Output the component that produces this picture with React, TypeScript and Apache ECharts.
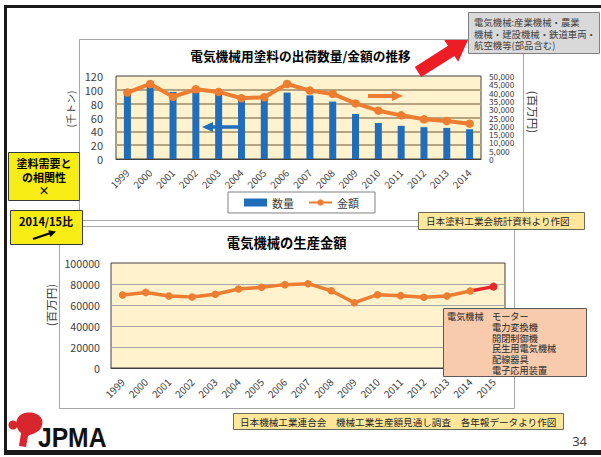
import React, { useEffect, useRef } from "react";
import * as echarts from "echarts";

const shipmentYears = ["1999", "2000", "2001", "2002", "2003", "2004", "2005", "2006", "2007", "2008", "2009", "2010", "2011", "2012", "2013", "2014"];
const shipmentQuantity = [101, 105, 97, 99, 95, 87, 87, 96, 92, 83, 65, 52, 48, 46, 45, 43];
const shipmentValue = [40000, 45200, 37500, 42000, 40400, 36600, 37200, 45200, 41200, 39200, 33500, 29100, 26300, 23900, 22900, 21300];

const productionYears = ["1999", "2000", "2001", "2002", "2003", "2004", "2005", "2006", "2007", "2008", "2009", "2010", "2011", "2012", "2013", "2014", "2015"];
const productionValue = [69500, 72000, 68600, 67600, 70200, 75200, 76800, 79400, 80300, 73600, 62200, 69800, 68900, 67300, 68600, 73300, 77500];

const legendNames = ["数量", "金額"];
const noteLines = ["電気機械:産業機械・農業", "機械・建設機械・鉄道車両・", "航空機等(部品含む)"];
const itemLines = ["モーター", "電力変換機", "開閉制御機", "民生用電気機械", "配線器具", "電子応用装置"];

const F = '"Noto Sans CJK JP", "Noto Sans", sans-serif';

const LogoShape = (echarts as any).graphic.extendPath(
  "M22 414 C 34 409 47 417 41 428 C 38 433 31 434 28 436 L 26 447 L 19 446 L 21 433 C 15 428 14 418 22 414 Z",
  {}
);
(echarts as any).graphic.registerShape("jpmaMark", LogoShape);

function txt(text: string, x: number, y: number, o: any = {}) {
  return {
    type: "text",
    x,
    y,
    z: 60,
    rotation: o.rot ?? 0,
    style: {
      text,
      fontSize: o.size ?? 10,
      fontFamily: o.family ?? F,
      fontWeight: o.weight ?? "normal",
      fill: o.color ?? "#404040",
      textAlign: o.align ?? "left",
      textVerticalAlign: "middle",
      lineHeight: o.lh,
    },
  };
}

function box(x: number, y: number, w: number, h: number, fill: string, stroke: string, z = 50, lw = 1) {
  return {
    type: "rect",
    z,
    shape: { x, y, width: w, height: h },
    style: { fill, stroke, lineWidth: lw },
  };
}

export default function App() {
  const ref = useRef<HTMLDivElement>(null);
  useEffect(() => {
    if (!ref.current) return;
    const chart = echarts.init(ref.current, null, { renderer: "svg" });
    const n = productionValue.length;
    const option: any = {
      animation: false,
      backgroundColor: "#ffffff",
      textStyle: { fontFamily: F },
      grid: [
        { left: 116, top: 76, width: 365, height: 83, show: true, backgroundColor: "#fff2cc", borderColor: "#404040", borderWidth: 1 },
        { left: 111, top: 263, width: 394, height: 105, show: true, backgroundColor: "#fff2cc", borderColor: "#404040", borderWidth: 1 },
      ],
      legend: {
        data: [{ name: legendNames[0], icon: "rect" }, { name: legendNames[1] }],
        left: 228,
        top: 192,
        itemWidth: 23,
        itemHeight: 8,
        itemGap: 14,
        padding: [5, 16],
        borderColor: "#808080",
        borderWidth: 1,
        backgroundColor: "#ffffff",
        textStyle: { fontSize: 11, color: "#404040", fontFamily: F },
      },
      xAxis: [
        {
          type: "category",
          gridIndex: 0,
          data: shipmentYears,
          axisTick: { show: false },
          axisLine: { lineStyle: { color: "#404040" } },
          axisLabel: { rotate: 45, fontSize: 9.8, color: "#404040", margin: 12, interval: 0, fontFamily: F },
        },
        {
          type: "category",
          gridIndex: 1,
          data: productionYears,
          boundaryGap: true,
          axisTick: { show: false },
          axisLine: { lineStyle: { color: "#404040" } },
          axisLabel: { rotate: 45, fontSize: 10, color: "#404040", margin: 12, interval: 0, fontFamily: F },
        },
      ],
      yAxis: [
        {
          type: "value",
          gridIndex: 0,
          min: 0,
          max: 120,
          interval: 20,
          axisLine: { show: false },
          axisTick: { show: false },
          axisLabel: { fontSize: 11, color: "#404040", margin: 13, fontFamily: F, showMinLabel: true, showMaxLabel: true },
          splitLine: { show: true, showMinLine: false, showMaxLine: false, lineStyle: { color: "#b5a47f", width: 2 } },
        },
        {
          type: "value",
          gridIndex: 0,
          position: "right",
          min: 0,
          max: 50000,
          interval: 5000,
          axisLine: { show: false },
          axisTick: { show: false },
          splitLine: { show: false },
          axisLabel: {
            fontSize: 8.3,
            lineHeight: 8,
            color: "#404040",
            margin: 8,
            fontFamily: F,
            showMinLabel: true,
            showMaxLabel: true,
            hideOverlap: false,
            formatter: (v: number) => v.toLocaleString("en-US"),
          },
        },
        {
          type: "value",
          gridIndex: 1,
          min: 0,
          max: 100000,
          interval: 20000,
          axisLine: { show: false },
          axisTick: { show: false },
          axisLabel: {
            fontSize: 10.7,
            color: "#404040",
            margin: 11,
            fontFamily: F,
            showMinLabel: true,
            showMaxLabel: true,
            formatter: (v: number) => String(v),
          },
          splitLine: { show: true, showMinLine: false, showMaxLine: false, lineStyle: { color: "#a6a6a6", width: 1 } },
        },
      ],
      series: [
        {
          type: "bar",
          name: legendNames[0],
          xAxisIndex: 0,
          yAxisIndex: 0,
          data: shipmentQuantity,
          barWidth: 7,
          itemStyle: { color: "#1f6dbb" },
          z: 3,
        },
        {
          type: "line",
          name: legendNames[1],
          xAxisIndex: 0,
          yAxisIndex: 1,
          data: shipmentValue,
          symbol: "circle",
          symbolSize: 8.5,
          lineStyle: { color: "#ed7d31", width: 4 },
          itemStyle: { color: "#ed7d31" },
          z: 4,
        },
        {
          type: "line",
          name: "生産金額",
          xAxisIndex: 1,
          yAxisIndex: 2,
          data: productionValue.map((v, i) => (i < n - 1 ? v : "-")),
          symbol: "circle",
          symbolSize: 7.5,
          lineStyle: { color: "#ed7d31", width: 3.5 },
          itemStyle: { color: "#ed7d31" },
          z: 4,
        },
        {
          type: "line",
          name: "2015",
          xAxisIndex: 1,
          yAxisIndex: 2,
          data: productionValue.map((v, i) =>
            i === n - 2 ? { value: v, symbol: "none" } : i === n - 1 ? v : "-"
          ),
          symbol: "circle",
          symbolSize: 8,
          lineStyle: { color: "#e8262b", width: 3.5 },
          itemStyle: { color: "#e8262b" },
          z: 3,
        },
      ],
      graphic: [
        // slide frame
        { type: "rect", z: -5, shape: { x: 4, y: 5, width: 3, height: 450 }, style: { fill: "#1a1a1a" } },
        { type: "rect", z: -5, shape: { x: 4, y: 5, width: 597, height: 3 }, style: { fill: "#1a1a1a" } },
        { type: "rect", z: -5, shape: { x: 4, y: 450, width: 597, height: 5 }, style: { fill: "#1a1a1a" } },
        // chart boxes
        box(79.5, 39.5, 444, 181, "#ffffff", "#a6a6a6", -1),
        box(59.5, 226.5, 455, 182, "#ffffff", "#a6a6a6", -1),
        // titles
        txt("電気機械用塗料の出荷数量/金額の推移", 300.5, 55, { size: 12.7, weight: "bold", color: "#000000", align: "center" }),
        txt("電気機械の生産金額", 286.7, 242, { size: 13.3, weight: "bold", color: "#000000", align: "center" }),
        // axis names
        txt("(千トン)", 70, 109, { size: 10, align: "center", rot: Math.PI / 2 }),
        txt("(百万円)", 533, 112, { size: 11.5, align: "center", rot: -Math.PI / 2 }),
        txt("(百万円)", 51, 305, { size: 11.5, align: "center", rot: Math.PI / 2 }),
        // arrows in top plot
        {
          type: "polygon",
          z: 60,
          shape: { points: [[368, 94], [392, 94], [392, 91], [403, 96], [392, 101], [392, 98], [368, 98]] },
          style: { fill: "#ed7d31" },
        },
        {
          type: "polygon",
          z: 60,
          shape: { points: [[202, 127], [213, 122], [213, 125.3], [238, 125.3], [238, 128.7], [213, 128.7], [213, 132]] },
          style: { fill: "#1f6dbb" },
        },
        // red arrow
        {
          type: "polygon",
          z: 60,
          shape: { points: [[414.8, 66.9], [448, 45.7], [444.2, 39.9], [468, 40], [458.2, 61.7], [454.4, 55.9], [421.2, 77.1]] },
          style: { fill: "#ee1c25" },
        },
        // gray note box
        box(468.5, 12.5, 131, 41, "#d9d9d9", "#808080", 55),
        txt(noteLines[0], 474, 22, { size: 9.4, lh: 11 }),
        txt(noteLines[1], 474, 33.5, { size: 9.4, lh: 11 }),
        txt(noteLines[2], 474, 45, { size: 9.4, lh: 11 }),
        // source boxes
        box(418.5, 212.5, 166, 17, "#ffe699", "#6b6b5a", 55),
        txt("日本塗料工業会統計資料より作図", 426, 221, { size: 9.6, color: "#262626" }),
        box(233.5, 413.5, 330, 16, "#ffe699", "#6b6b5a", 55),
        txt("日本機械工業連合会　機械工業生産額見通し調査　各年報データより作図", 240, 421.5, { size: 9.6, color: "#262626" }),
        // salmon item box
        box(443.5, 308.5, 143, 68, "#f8cbad", "#595959", 55),
        txt("電気機械", 447, 316, { size: 9.2, color: "#262626", lh: 10 }),
        ...itemLines.map((s, i) => txt(s, 492, 316 + i * 10.8, { size: 9.2, color: "#262626", lh: 10 })),
        // left yellow boxes
        box(8.5, 152.5, 71, 48, "#f7ec13", "#3a3a3a", 55),
        txt("塗料需要と", 44, 163, { size: 11, weight: "bold", color: "#000000", align: "center", lh: 13 }),
        txt("の相関性", 44, 177, { size: 11, weight: "bold", color: "#000000", align: "center", lh: 13 }),
        txt("×", 44, 190, { size: 11, weight: "bold", color: "#000000", align: "center", lh: 12 }),
        box(10.5, 210.5, 72, 34, "#f7ec13", "#3a3a3a", 55),
        txt("2014/15比", 46, 221, { size: 11, weight: "bold", color: "#000000", align: "center" }),
        { type: "line", z: 60, shape: { x1: 33, y1: 239, x2: 50, y2: 233.3 }, style: { stroke: "#000000", lineWidth: 2 } },
        { type: "polygon", z: 60, shape: { points: [[56, 231.5], [50.4, 236.9], [48.2, 230.3]] }, style: { fill: "#000000" } },
        // logo
        { type: "circle", z: 60, shape: { cx: 13, cy: 425, r: 4.5 }, style: { fill: "#d9262e" } },
        { type: "jpmaMark", z: 60, x: 0, y: 0, style: { fill: "#d9262e" } },
        {
          type: "text",
          z: 60,
          x: 38,
          y: 437,
          scaleX: 0.88,
          style: { text: "JPMA", fontSize: 28, fontWeight: "bold", fontFamily: '"Liberation Sans", Arial, sans-serif', fill: "#111111", textAlign: "left", textVerticalAlign: "middle" },
        },
        // page number
        txt("34", 587, 441, { size: 13, align: "right", family: '"Noto Sans", sans-serif' }),
      ],
    };
    chart.setOption(option);
    return () => chart.dispose();
  }, []);
  return (
    <div
      ref={ref}
      style={{ position: "fixed", left: 0, top: 0, width: 601, height: 457, background: "#ffffff" }}
    />
  );
}
